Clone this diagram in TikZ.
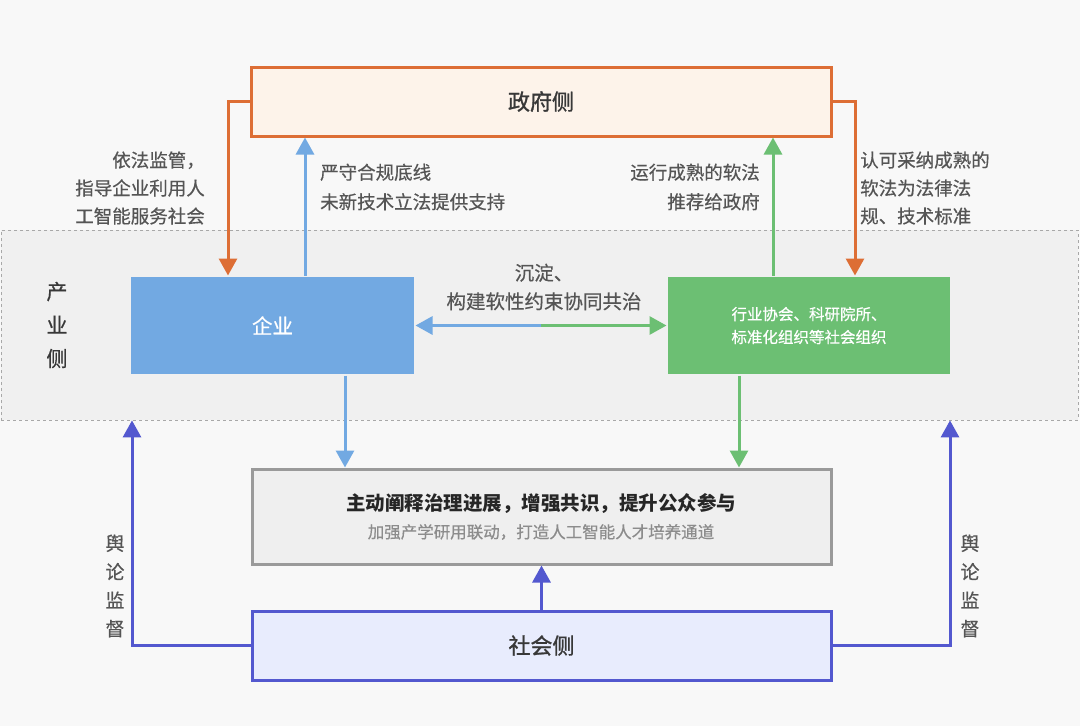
\documentclass[tikz,border=0pt]{standalone}
\usepackage{fontspec}
\setmainfont{Noto Sans CJK SC}
\newfontfamily\medf{Noto Sans CJK SC}[FakeBold=0.5]
\newfontfamily\semif{Noto Sans CJK SC}[FakeBold=1.2]
\usetikzlibrary{arrows.meta}
\definecolor{bgc}{HTML}{F8F8F8}
\definecolor{bandc}{HTML}{F0F0F0}
\definecolor{banddash}{HTML}{A8A8A8}
\definecolor{orng}{HTML}{DD6E35}
\definecolor{govfill}{HTML}{FDF3EA}
\definecolor{blu}{HTML}{72A9E2}
\definecolor{grn}{HTML}{6CBF73}
\definecolor{purp}{HTML}{5358CF}
\definecolor{socfill}{HTML}{E8ECFD}
\definecolor{grayb}{HTML}{9A9A9A}
\definecolor{midfill}{HTML}{EFEFEF}
\definecolor{txt}{HTML}{555555}
\definecolor{dark}{HTML}{383838}
\begin{document}
\begin{tikzpicture}[x=1pt,y=-1pt,
  box/.style={rectangle, inner sep=0pt, line width=3pt},
  conn/.style={line width=3pt, -{Triangle[width=18pt,length=17pt]}},
  oarr/.style={conn, draw=orng},
  barr/.style={conn, draw=blu},
  garr/.style={conn, draw=grn},
  parr/.style={conn, draw=purp},
  lbl/.style={text=txt, inner sep=0pt, font=\medf\fontsize{18.5}{28}\selectfont},
  vlbl/.style={text=txt, inner sep=0pt, align=center},
  title/.style={text=dark, font=\semif\fontsize{22}{24}\selectfont}
]
\useasboundingbox (0,0) rectangle (1080,726);
\fill[bgc] (0,0) rectangle (1080,726);

% industry band
\node[rectangle, draw=banddash, fill=bandc, dashed, line width=0.8pt, inner sep=0pt,
  minimum width=1077pt, minimum height=190pt] (band) at (539.5,325) {};

% boxes
\node[box, draw=orng, fill=govfill, minimum width=580pt, minimum height=69pt] (gov) at (541,101.5) {};
\node[title] at (gov.center) {政府侧};

\node[box, fill=blu, minimum width=283pt, minimum height=97pt,
  text=white, font=\medf\fontsize{20.5}{24}\selectfont] (qiye) at (272.5,325.5) {企业};

\node[box, fill=grn, minimum width=282pt, minimum height=97pt,
  text=white, align=center, font=\medf\fontsize{15.5}{23}\selectfont] (org) at (809,325.5)
  {行业协会、科研院所、\\标准化组织等社会组织};

\node[box, draw=grayb, fill=midfill, minimum width=579pt, minimum height=95pt] (mid) at (541.5,516.5) {};
\node[inner sep=0pt, text=black!85, font=\fontsize{19.5}{24}\selectfont\bfseries] (midt) at (541,504) {主动阐释治理进展，增强共识，提升公众参与};
\node[inner sep=0pt, text=black!45, font=\medf\fontsize{16.5}{20}\selectfont] (mids) at (541,532) {加强产学研用联动，打造人工智能人才培养通道};

\node[box, draw=purp, fill=socfill, minimum width=579pt, minimum height=69pt] (soc) at (541.5,645.5) {};
\node[title] at (soc.center) {社会侧};

% helper coordinates
\coordinate (oL) at (228,0);
\coordinate (oR) at (855,0);
\coordinate (bU) at (305,0);
\coordinate (gU) at (773,0);
\coordinate (bD) at (345,0);
\coordinate (gD) at (739,0);
\coordinate (pL) at (132,0);
\coordinate (pR) at (950,0);
\coordinate (mc) at (541,325.5);

% connectors
\draw[oarr] (gov.west) -| (qiye.north -| oL);
\draw[oarr] (gov.east) -| (org.north -| oR);
\draw[barr] (qiye.north -| bU) -- (gov.south -| bU);
\draw[garr] (org.north -| gU) -- (gov.south -| gU);
\draw[barr] (mc) -- (qiye.east);
\draw[garr] (mc) -- (org.west);
\draw[barr] (qiye.south -| bD) -- (mid.north -| bD);
\draw[garr] (org.south -| gD) -- (mid.north -| gD);
\draw[parr] (soc.north) -- (mid.south);
\draw[parr] (soc.west) -| (band.south -| pL);
\draw[parr] (soc.east) -| (band.south -| pR);

% labels
\node[lbl, align=right, anchor=east] (l1) at (205,188) {依法监管，\\指导企业利用人\\工智能服务社会};
\node[lbl, align=left, anchor=west, font=\medf\fontsize{18.5}{29.5}\selectfont] (l2) at (320,187) {严守合规底线\\未新技术立法提供支持};
\node[lbl, align=right, anchor=east, font=\medf\fontsize{18.5}{29.5}\selectfont] (l3) at (760,187) {运行成熟的软法\\推荐给政府};
\node[lbl, align=left, anchor=west] (l4) at (860,188) {认可采纳成熟的\\软法为法律法\\规、技术标准};
\node[lbl, align=center, font=\medf\fontsize{19.5}{28.5}\selectfont] (l5) at (544,287) {沉淀、\\构建软性约束协同共治};

\node[vlbl, font=\medf\fontsize{21}{33.5}\selectfont, text=dark] (ind) at (57,325) {产\\业\\侧};
\node[vlbl, font=\medf\fontsize{19}{28.5}\selectfont] (yl1) at (115,586) {舆\\论\\监\\督};
\node[vlbl, font=\medf\fontsize{19}{28.5}\selectfont] (yl2) at (970,586) {舆\\论\\监\\督};
\end{tikzpicture}
\end{document}
